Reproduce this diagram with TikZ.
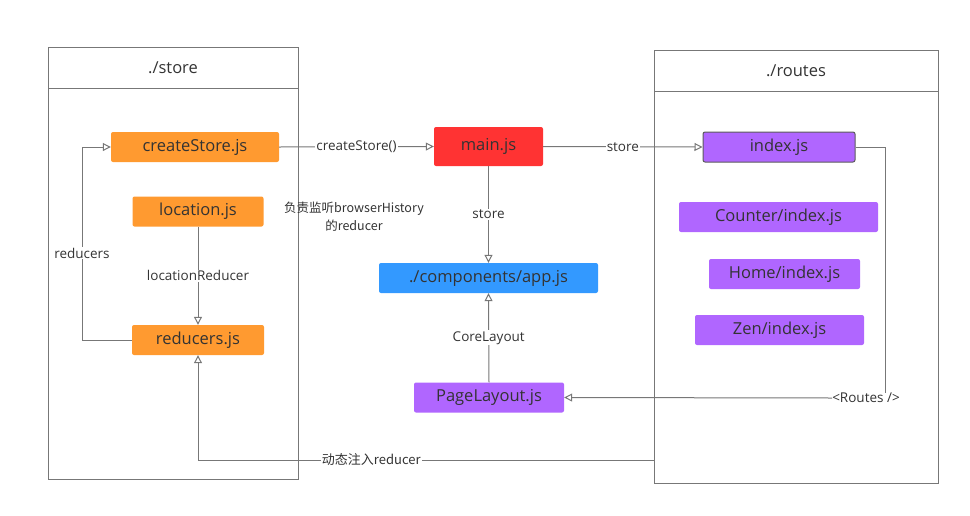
\documentclass[tikz,border=0pt]{standalone}
\usepackage{fontspec}
\setmainfont{Open Sans}
\newfontfamily\cjk{Noto Sans CJK SC}
\usetikzlibrary{arrows.meta}
\definecolor{orng}{HTML}{FF9A30}
\definecolor{redd}{HTML}{FF3333}
\definecolor{blu}{HTML}{3399FF}
\definecolor{purp}{HTML}{B066FF}
\definecolor{edge}{HTML}{777777}
\definecolor{ink}{HTML}{333333}
\begin{document}
\begin{tikzpicture}[x=1pt, y=-1pt,
    file/.style={rounded corners=2pt, minimum height=30pt, inner sep=0pt, text=ink, font=\fontsize{16.5}{19}\selectfont},
    frame/.style={draw=edge, line width=1pt},
    wire/.style={draw=edge, line width=1pt},
    arr/.style={wire, -{Triangle[open, length=8pt, width=8pt]}},
    lbl/.style={fill=white, inner sep=1pt, text=ink, font=\fontsize{13.5}{16}\selectfont}]
    \useasboundingbox (0,0) rectangle (970,515);

    % ./store
    \draw[frame] (48,47) rectangle (298,479);
    \draw[frame] (48,88) -- (298,88);
    \node[text=ink, font=\fontsize{16.5}{19}\selectfont] (storetitle) at (173,68) {./store};

    % ./routes
    \draw[frame] (654,50) rectangle (938,483);
    \draw[frame] (654,91) -- (938,91);
    \node[text=ink, font=\fontsize{16.5}{19}\selectfont] (routestitle) at (796,71) {./routes};

    \node[file, fill=orng, minimum width=168pt] (create) at (195,147) {createStore.js};
    \node[file, fill=orng, minimum width=131pt] (location) at (198,211.5) {location.js};
    \node[file, fill=orng, minimum width=132pt] (reducers) at (198,340) {reducers.js};

    \node[file, fill=redd, minimum width=109pt, minimum height=39pt] (main) at (488.5,146.5) {main.js};
    \node[file, fill=blu, minimum width=219pt] (app) at (488.5,278) {./components/app.js};
    \node[file, fill=purp, minimum width=150pt] (page) at (489,397.5) {PageLayout.js};

    \node[file, fill=purp, draw=ink!80, line width=1pt, minimum width=152pt] (index) at (779,147) {index.js};
    \node[file, fill=purp, minimum width=199pt] (counter) at (778.5,217) {Counter/index.js};
    \node[file, fill=purp, minimum width=151pt] (home) at (784.5,274) {Home/index.js};
    \node[file, fill=purp, minimum width=169pt] (zen) at (779.5,330) {Zen/index.js};

    \node[text=ink, align=center, font=\cjk\fontsize{12.5}{18}\selectfont] (note) at (354,217) {负责监听browserHistory\\的reducer};

    \draw[arr] (reducers.west) -- (82,340) -- node[lbl, pos=0.45] {reducers} (82,147) -- (create.west);
    \draw[arr] (location.south) -- node[lbl] {locationReducer} (reducers.north);
    \draw[arr] (create.east) -- node[lbl] {createStore()} (main.west);
    \draw[arr] (main.east) -- node[lbl] {store} (index.west);
    \draw[arr] (main.south) -- node[lbl] {store} (app.north);
    \draw[arr] (page.north) -- node[lbl] {CoreLayout} (app.south);

    \node[lbl, inner sep=0pt] (routes) at (866,398) {<Routes />};
    \coordinate (rc) at (885,147);
    \draw[wire] (index.east) -- (rc) -- (rc |- routes.north);
    \draw[arr] (routes.west) -- (page.east);

    \coordinate (inj) at (654,460);
    \draw[arr] (inj) -- node[lbl, pos=0.62, font=\cjk\fontsize{13}{15}\selectfont] {动态注入reducer} (reducers.south |- inj) -- (reducers.south);
\end{tikzpicture}
\end{document}
